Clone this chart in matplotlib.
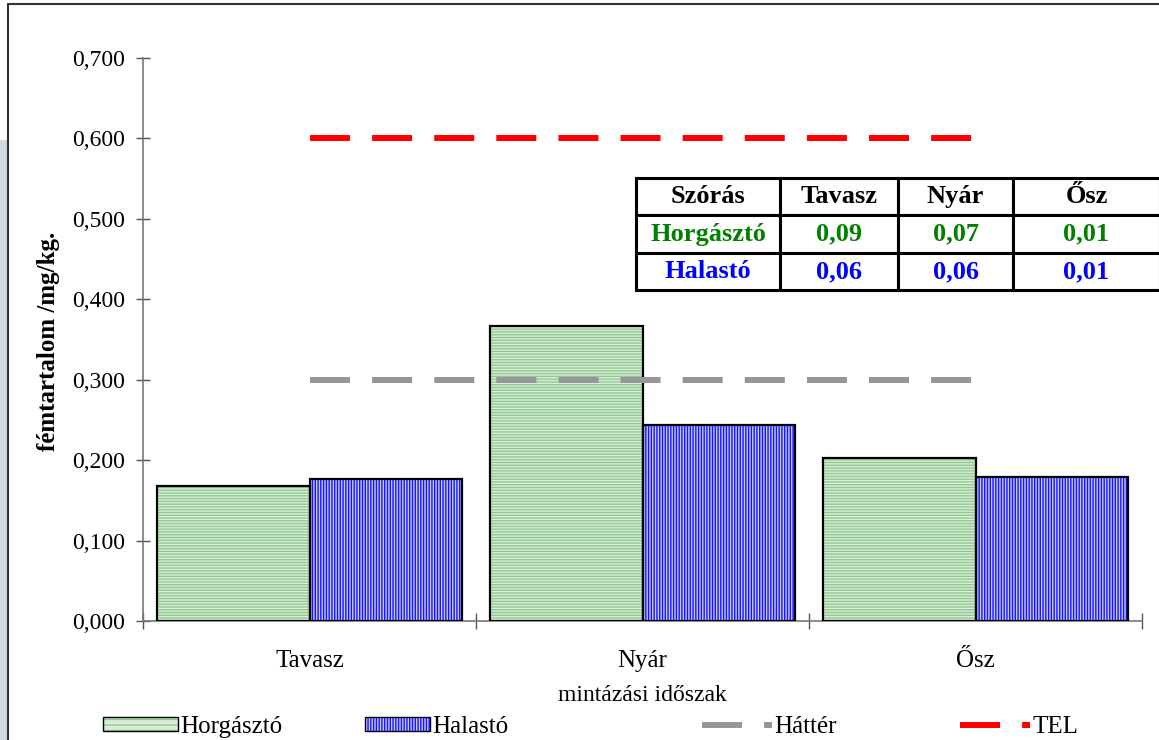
import numpy as np
import matplotlib.pyplot as plt
from matplotlib.patches import Patch, Rectangle
from matplotlib.lines import Line2D

plt.rcParams['font.family'] = ['Liberation Serif', 'DejaVu Serif']
plt.rcParams['hatch.linewidth'] = 1.0

# mean metal content per sampling season
seasons = ['Tavasz', 'Nyár', 'Ősz']
horgaszto = [0.168, 0.367, 0.203]
halasto = [0.177, 0.244, 0.179]
hatter = [0.300, 0.300, 0.300]
tel = [0.600, 0.600, 0.600]
yticks = [0.0, 0.1, 0.2, 0.3, 0.4, 0.5, 0.6, 0.7]

# standard deviations shown in the inset table
table_header = ['Szórás', 'Tavasz', 'Nyár', 'Ősz']
table_rows = ['Horgásztó', 'Halastó']
szoras_horgaszto = ['0,09', '0,07', '0,01']
szoras_halasto = ['0,06', '0,06', '0,01']

W, H = 1159, 740
fig = plt.figure(figsize=(W / 100, H / 100), dpi=100)

# slide background strip and chart frame
fig.patches.append(Rectangle((0, 0), 8 / W, 1 - 140 / H, transform=fig.transFigure,
                             facecolor='#d3dae2', edgecolor='none', zorder=-2))
fig.patches.append(Rectangle((8 / W, -0.05), 1.1, 1.05 - 4 / H, transform=fig.transFigure,
                             facecolor='white', edgecolor='#333333', linewidth=1.5, zorder=-1))

ax = fig.add_axes([143 / W, 1 - 621 / H, 999 / W, 563 / H])
ax.set_zorder(1)
ax.set_facecolor('none')

x = np.arange(len(seasons)) + 0.5
w = 0.458

green_face, green_hatch = '#d8eed8', '#92c892'
blue_face, blue_hatch = '#c8c8ff', '#1414ff'

ax.bar(x - w / 2, horgaszto, w, color=green_face, edgecolor=green_hatch,
       hatch='------', linewidth=0, zorder=2)
ax.bar(x - w / 2, horgaszto, w, fill=False, edgecolor='black', linewidth=1.6, zorder=3)
ax.bar(x + w / 2, halasto, w, color=blue_face, edgecolor=blue_hatch,
       hatch='||||||', linewidth=0, zorder=2)
ax.bar(x + w / 2, halasto, w, fill=False, edgecolor='black', linewidth=1.6, zorder=3)

dash = (6.7, 3.7)
ax.plot(x, hatter, color='#969696', linewidth=4.3, dashes=dash,
        dash_capstyle='butt', zorder=4)
ax.plot(x, tel, color='#ff0000', linewidth=4.3, dashes=dash,
        dash_capstyle='butt', zorder=4)

ax.set_xlim(0, 3)
ax.set_ylim(0, 0.7)
ax.set_yticks(yticks)
ax.set_yticklabels([f'{v:.3f}'.replace('.', ',') for v in yticks])
ax.set_xticks([0, 1, 2, 3])
ax.set_xticklabels([])
ax.set_xticks(x, minor=True)
ax.set_xticklabels(seasons, minor=True)

for s in ['top', 'right']:
    ax.spines[s].set_visible(False)
for s in ['left', 'bottom']:
    ax.spines[s].set_color('#777777')
    ax.spines[s].set_linewidth(1.2)

ax.tick_params(axis='y', which='major', direction='inout', length=10, width=1,
               color='#555555', labelsize=17, pad=8)
ax.tick_params(axis='x', which='major', direction='inout', length=11, width=1,
               color='#555555')
ax.tick_params(axis='x', which='minor', length=0, labelsize=18, pad=21)

ax.set_xlabel('mintázási időszak', fontsize=17, labelpad=9)
ax.set_ylabel('fémtartalom /mg/kg.', fontsize=18, fontweight='bold')
ax.yaxis.set_label_coords(-0.083, 0.497)

# inset table with standard deviations
tax = fig.add_axes([636 / W, 1 - 290 / H, 524 / W, 112 / H])
tax.set_zorder(2)
tax.axis('off')
cells = [szoras_horgaszto, szoras_halasto]
cell_text = [[name] + vals for name, vals in zip(table_rows, cells)]
tbl = tax.table(cellText=cell_text, colLabels=table_header, bbox=[0, 0, 1, 1],
                colWidths=[144, 118, 115, 147], cellLoc='center')
tbl.auto_set_font_size(False)
row_colors = ['black', '#008000', '#0000ff']
for (r, c), cell in tbl.get_celld().items():
    cell.set_linewidth(2.2)
    cell.set_edgecolor('black')
    cell.set_text_props(fontsize=19, fontweight='bold', color=row_colors[r])

# legend along the bottom edge
green_h = (Patch(facecolor=green_face, edgecolor=green_hatch, hatch='---', linewidth=0),
           Patch(fill=False, edgecolor='black', linewidth=1))
blue_h = (Patch(facecolor=blue_face, edgecolor=blue_hatch, hatch='||||||', linewidth=0),
          Patch(fill=False, edgecolor='black', linewidth=1))
gray_h = Line2D([], [], color='#969696', linewidth=4.3, dashes=dash, dash_capstyle='butt')
red_h = Line2D([], [], color='#ff0000', linewidth=4.3, dashes=dash, dash_capstyle='butt')

items = [(green_h, 'Horgásztó', 103, 3.0), (blue_h, 'Halastó', 365, 2.6),
         (gray_h, 'Háttér', 702, 2.8), (red_h, 'TEL', 960, 2.8)]
for handle, label, px, hl in items:
    leg = fig.legend([handle], [label], loc='center left',
                     bbox_to_anchor=(px / W, 1 - 727 / H), frameon=False,
                     fontsize=18, handlelength=hl, handleheight=0.45,
                     handletextpad=0.1, borderpad=0, borderaxespad=0)

fig.savefig('out.png', dpi=100)
